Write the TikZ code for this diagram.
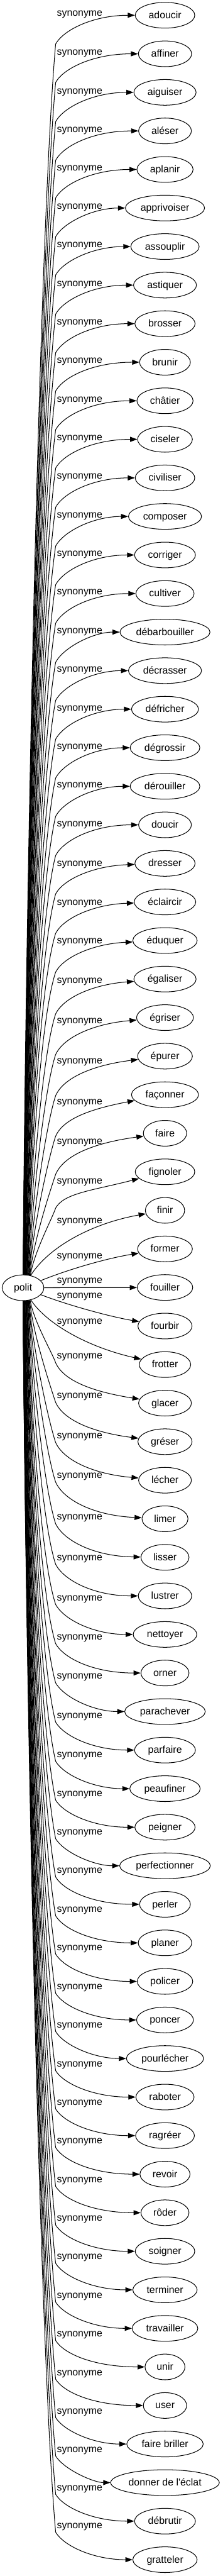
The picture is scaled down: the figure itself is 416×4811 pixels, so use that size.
\documentclass[tikz,border=0pt]{standalone}
\usepackage{fontspec}
\setmainfont{Liberation Sans}[Ligatures=TeXOff]
\usetikzlibrary{arrows.meta,shapes.geometric,calc}
\begin{document}
\begin{tikzpicture}[x=0.75pt,y=-0.75pt,
  every node/.style={font=\fontsize{14}{16}\selectfont, inner sep=0pt},
  word/.style={draw, line width=0.9pt, ellipse, minimum height=36pt},
  wtext/.style={text height=10pt, text depth=1pt},
  rel/.style={anchor=center},
  edge/.style={line width=0.9pt, -{Triangle[length=10pt,width=7pt]}}]
\useasboundingbox (0,0) rectangle (416,4811);
\node[word, wtext, minimum width=58.5pt] (polit) at (43,2405) {polit};
\foreach \i/\t/\ly/\dy/\bo in {
1/adoucir/27.3/0/55,
2/affiner/100/0/54,
3/aiguiser/172.3/0/55,
4/aléser/244.3/0/55,
5/aplanir/315.7/0/54,
6/apprivoiser/387.1/0/55,
7/assouplir/458.6/0/55,
8/astiquer/531.8/0/55,
9/brosser/603.9/0/55,
10/brunir/675.4/0/55,
11/châtier/747.5/0/55,
12/ciseler/819.3/0/55,
13/civiliser/891.4/0/56,
14/composer/963.9/0/56,
15/corriger/1036.1/0/56,
16/cultiver/1107.9/0/56,
17/débarbouiller/1180/0/57,
18/décrasser/1252.1/0/56,
19/défricher/1324.6/0/56,
20/dégrossir/1396.1/0/57,
21/dérouiller/1468.6/0/56,
22/doucir/1540.7/0/57,
23/dresser/1614.6/1.5/55,
24/éclaircir/1687.1/1.5/56,
25/éduquer/1759.6/2/56,
26/égaliser/1833.6/3.3/60,
27/égriser/1908.6/3.8/61,
28/épurer/1983.3/5.5/63,
29/façonner/2060/8.5/62,
30/faire/2134.3/6/59,
31/fignoler/2208.3/11.5/48,
32/finir/2281.7/11/0,
33/former/2347.7/9/0,
34/fouiller/2394/2/0,
35/fourbir/2421.7/-8.5/0,
36/frotter/2470/-8.5/0,
37/glacer/2535/-7/10,
38/gréser/2609/-5.7/10,
39/lécher/2684/-3.8/10,
40/limer/2758/-2/10,
41/lisser/2835.7/-0.6/10,
42/lustrer/2911.4/0/10,
43/nettoyer/2986.4/0/10,
44/orner/3059.6/0/10,
45/parachever/3132.9/0/10,
46/parfaire/3206.1/0/10,
47/peaufiner/3279.3/0/10,
48/peigner/3351.8/0/10,
49/perfectionner/3423.9/0/10,
50/perler/3495.4/0/10,
51/planer/3567.9/0/10,
52/policer/3639.3/0/10,
53/poncer/3712.5/0/10,
54/pourlécher/3783.9/0/10,
55/raboter/3857.1/0/10,
56/ragréer/3928.6/0/10,
57/revoir/4000.7/0/10,
58/rôder/4073.2/0/10,
59/soigner/4145.4/0/10,
60/terminer/4216.8/0/10,
61/travailler/4289.3/0/10,
62/unir/4361/0/10,
63/user/4433.3/0/10,
64/faire briller/4505/0/10,
65/donner de l'éclat/4576.7/0/10,
66/débrutir/4648.3/0/10,
67/gratteler/4719/0/10}{
  \pgfmathsetmacro\ny{28.5+72*(\i-1)}
  \pgfmathsetmacro\tc{\ny+3*\dy}
  \node[wtext] (t\i) at (308.5,\ny) {\t};
  \path let \p1=(t\i.west), \p2=(t\i.east) in
    node[word, minimum width={1.22*(\x2-\x1)+27pt}] (n\i) at (308.5,\ny) {};
  \node[rel] (l\i) at (149,\ly) {synonyme};
  \ifnum\i<32
    \pgfmathtruncatemacro\a{90-33*((\i-1)/31)^2}
    \pgfmathsetmacro\by{\ly+\bo}
    \pgfmathsetmacro\D{2381-\by}
    \pgfmathsetmacro\f{min(1,\D/600)}
    \pgfmathsetmacro\rise{\by-\ny-\dy}
    \draw[edge] (polit.\a) .. controls +(6,-0.33*\D) and +(-30*\f,0.15*\D) .. (104,\by) .. controls +(15,-0.5*\rise) and (175,\tc) .. (n\i);
  \fi
  \ifnum\i>36
    \pgfmathtruncatemacro\a{270+33*((67-\i)/31)^2}
    \pgfmathsetmacro\by{\ly+\bo}
    \pgfmathsetmacro\D{\by-2429}
    \pgfmathsetmacro\f{min(1,\D/600)}
    \pgfmathsetmacro\drop{\ny+\dy-\by}
    \draw[edge] (polit.\a) .. controls +(6,0.33*\D) and +(-30*\f,-0.15*\D) .. (104,\by) .. controls +(15,0.5*\drop) and (175,\tc) .. (n\i);
  \fi
}
\draw[edge] (polit) .. controls (90,2330) and (170,2285) .. (n32);
\draw[edge] (polit) .. controls (130,2370) and (200,2350) .. (n33);
\draw[edge] (polit) -- (n34);
\draw[edge] (polit) .. controls (120,2435) and (200,2458) .. (n35);
\draw[edge] (polit) .. controls (85,2470) and (160,2515) .. (n36);
\end{tikzpicture}
\end{document}
